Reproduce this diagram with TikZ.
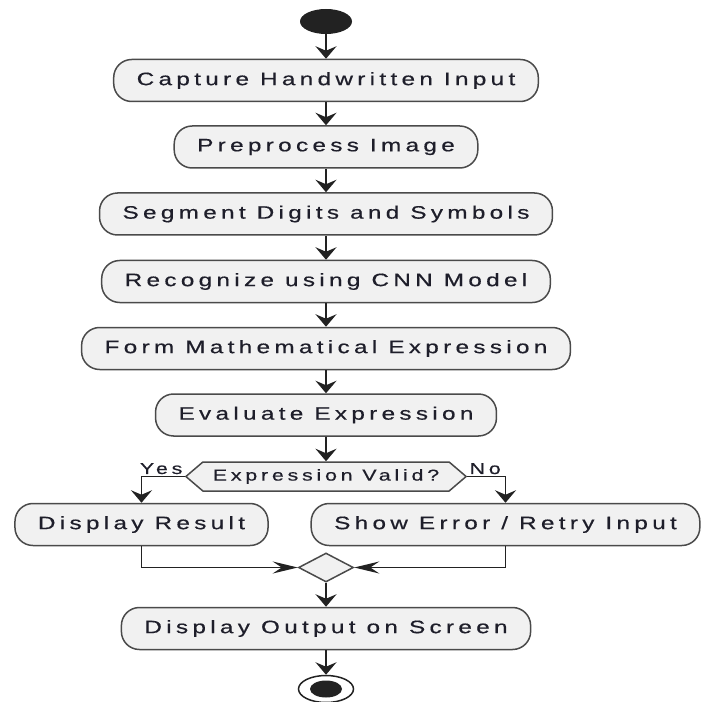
\documentclass[tikz,border=0pt]{standalone}
\usepackage{fontspec}
\setmainfont{Liberation Sans}
\newfontfamily\actfont{Liberation Sans}[FakeStretch=1.35,LetterSpace=24,FakeBold=0.5]
\usetikzlibrary{arrows.meta,shapes.geometric,shapes.symbols}

\definecolor{boxfill}{HTML}{F1F1F1}
\definecolor{boxline}{HTML}{4A4A4A}
\definecolor{flowline}{HTML}{222222}
\definecolor{labeltext}{HTML}{1E1E2A}

\tikzset{
	activity/.style={draw=boxline, fill=boxfill, line width=0.03cm, rounded corners=0.36cm,
		minimum height=0.84cm, inner xsep=0.46cm, text=labeltext,
		font=\actfont\fontsize{10.24}{12}\selectfont},
	decision/.style={shape=signal, signal to=west and east, signal pointer angle=81,
		draw=boxline, fill=boxfill, line width=0.03cm, minimum height=0.58cm,
		inner xsep=0.2cm, inner ysep=0cm, text=labeltext,
		font=\actfont\fontsize{9}{11}\selectfont},
	branch/.style={inner sep=0.03cm, text=labeltext, font=\actfont\fontsize{9}{11}\selectfont},
	mergebox/.style={diamond, draw=boxline, fill=boxfill, line width=0.03cm,
		minimum width=1.1cm, minimum height=0.58cm, inner sep=0cm},
	startdot/.style={ellipse, fill=flowline, minimum width=1.04cm, minimum height=0.5cm, inner sep=0cm},
	stopring/.style={ellipse, draw=flowline, fill=white, line width=0.03cm,
		minimum width=1.1cm, minimum height=0.54cm, inner sep=0cm},
	flow/.style={draw=flowline, line width=0.035cm, -{Stealth[length=0.25cm, width=0.42cm, inset=0.09cm]}},
	flowh/.style={draw=flowline, line width=0.035cm, -{Stealth[length=0.5cm, width=0.24cm, inset=0.18cm]}}
}

\begin{document}
\begin{tikzpicture}[y=-1cm]
	\useasboundingbox (0, 0) rectangle (14.0, 14.04);
	\node[startdot] (start) at (6.52, 0.43) {};
	\node[activity] (capture) at (6.52, 1.61) {Capture Handwritten Input};
	\node[activity] (preprocess) at (6.52, 2.94) {Preprocess Image};
	\node[activity] (segment) at (6.52, 4.28) {Segment Digits and Symbols};
	\node[activity] (recognize) at (6.52, 5.63) {Recognize using CNN Model};
	\node[activity] (form) at (6.52, 6.97) {Form Mathematical Expression};
	\node[activity] (evaluate) at (6.52, 8.30) {Evaluate Expression};
	\node[decision] (valid) at (6.52, 9.53) {Expression Valid?};
	\node[activity] (result) at (2.83, 10.49) {Display Result};
	\node[activity] (retry) at (10.11, 10.49) {Show Error / Retry Input};
	\node[mergebox] (merge) at (6.52, 11.35) {};
	\node[activity] (output) at (6.52, 12.57) {Display Output on Screen};
	\node[stopring] (stop) at (6.52, 13.78) {};
	\fill[flowline] (stop.center) ellipse (0.32cm and 0.17cm);

	\draw[flow] (start) -- (capture);
	\draw[flow] (capture) -- (preprocess);
	\draw[flow] (preprocess) -- (segment);
	\draw[flow] (segment) -- (recognize);
	\draw[flow] (recognize) -- (form);
	\draw[flow] (form) -- (evaluate);
	\draw[flow] (evaluate) -- (valid);
	\draw[flow] (valid.west) -| node[branch, pos=0, anchor=south east] {Yes} (result.north);
	\draw[flow] (valid.east) -| node[branch, pos=0, anchor=south west] {No} (retry.north);
	\draw[flowh] (result.south) |- (merge.west);
	\draw[flowh] (retry.south) |- (merge.east);
	\draw[flow] (merge) -- (output);
	\draw[flow] (output) -- (stop);
\end{tikzpicture}
\end{document}
